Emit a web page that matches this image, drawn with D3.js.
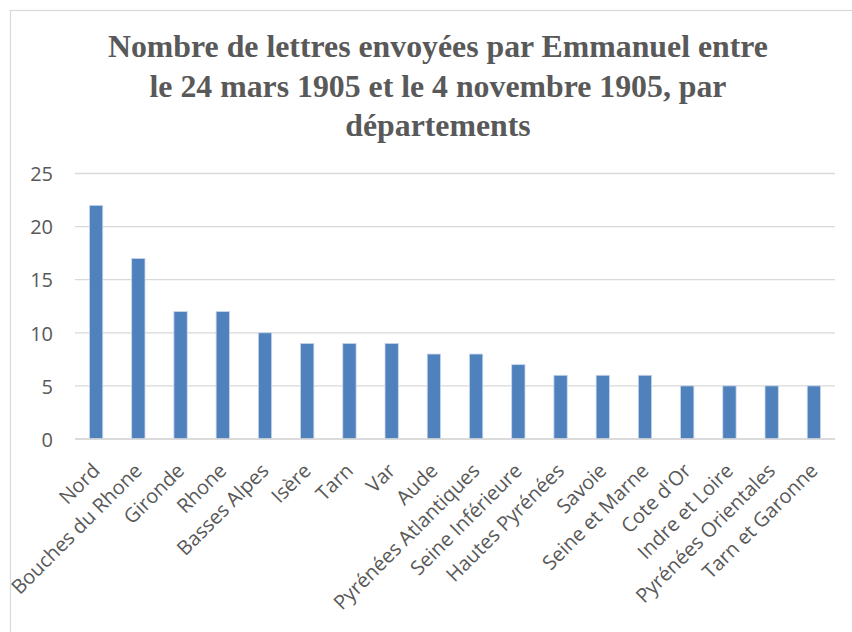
<!DOCTYPE html>
<html>
<head>
<meta charset="utf-8">
<script src="https://cdn.jsdelivr.net/npm/d3@7"></script>
<style>
  html, body { margin: 0; padding: 0; background: #fff; }
  svg { display: block; }
</style>
</head>
<body>
<svg id="chart" width="852" height="632"></svg>
<script>
// Letters sent per département, 24 March – 4 November 1905
const departements = [
  "Nord", "Bouches du Rhone", "Gironde", "Rhone", "Basses Alpes", "Isère",
  "Tarn", "Var", "Aude", "Pyrénées Atlantiques", "Seine Inférieure",
  "Hautes Pyrénées", "Savoie", "Seine et Marne", "Cote d'Or",
  "Indre et Loire", "Pyrénées Orientales", "Tarn et Garonne"
];
const lettres = [22, 17, 12, 12, 10, 9, 9, 9, 8, 8, 7, 6, 6, 6, 5, 5, 5, 5];
const yTicks = [0, 5, 10, 15, 20, 25];
const titleLines = [
  "Nombre de lettres envoyées par Emmanuel entre",
  "le 24 mars 1905 et le 4 novembre 1905, par",
  "départements"
];

const svg = d3.select("#chart");
const textColor = "#595959";
const gridColor = "#d9d9d9";
const barColor = "#4f81bd";

// everything inside the chart frame is clipped to it
svg.append("defs").append("clipPath")
  .attr("id", "frame-clip")
  .append("rect")
  .attr("x", 11).attr("y", 11)
  .attr("width", 900).attr("height", 700);

// chart area frame
svg.append("rect")
  .attr("x", 10.5).attr("y", 10.5)
  .attr("width", 900).attr("height", 700)
  .attr("fill", "#fff")
  .attr("stroke", gridColor)
  .attr("stroke-width", 1.2);

const inner = svg.append("g").attr("clip-path", "url(#frame-clip)");

// title
const title = inner.append("text")
  .attr("text-anchor", "middle")
  .attr("font-family", "'Liberation Serif', 'Times New Roman', serif")
  .attr("font-weight", "bold")
  .attr("font-size", 31.8)
  .attr("fill", textColor);
titleLines.forEach((line, i) => {
  title.append("tspan")
    .attr("x", 438)
    .attr("y", 57 + i * 39.5)
    .text(line);
});

const x = d3.scaleBand()
  .domain(departements)
  .range([75, 835])
  .paddingInner(0.685)
  .paddingOuter(0.3425);

const y = d3.scaleLinear()
  .domain([0, 25])
  .range([439, 173.5]);

// horizontal gridlines
inner.append("g")
  .selectAll("line")
  .data(yTicks)
  .join("line")
  .attr("x1", 75).attr("x2", 835)
  .attr("y1", d => y(d)).attr("y2", d => y(d))
  .attr("stroke", gridColor)
  .attr("stroke-width", 1.3);

// y axis labels
const yAxis = inner.append("g")
  .attr("transform", "translate(53,0)")
  .call(d3.axisLeft(y).tickValues(yTicks).tickSize(0).tickPadding(0));
yAxis.select(".domain").remove();
yAxis.selectAll("text")
  .attr("font-family", "'Open Sans', sans-serif")
  .attr("font-size", 20)
  .attr("fill", textColor)
  .attr("dy", "0.36em");

// bars
inner.append("g")
  .selectAll("rect")
  .data(departements)
  .join("rect")
  .attr("x", d => x(d))
  .attr("y", (d, i) => y(lettres[i]))
  .attr("width", x.bandwidth())
  .attr("height", (d, i) => y(0) - y(lettres[i]))
  .attr("fill", barColor)
  .attr("stroke", "#c9d7ea")
  .attr("stroke-width", 0.8);

// category axis line
inner.append("line")
  .attr("x1", 75).attr("x2", 835)
  .attr("y1", y(0)).attr("y2", y(0))
  .attr("stroke", gridColor)
  .attr("stroke-width", 1.5);

// rotated category labels
const xAxis = inner.append("g")
  .attr("transform", `translate(0,${y(0)})`)
  .call(d3.axisBottom(x).tickSize(0).tickPadding(0));
xAxis.select(".domain").remove();
xAxis.selectAll(".tick text")
  .attr("font-family", "'Open Sans', sans-serif")
  .attr("font-size", 20)
  .attr("fill", textColor)
  .attr("text-anchor", "end")
  .attr("dy", "0.35em")
  .attr("transform", "translate(0,28) rotate(-45)");
</script>
</body>
</html>
